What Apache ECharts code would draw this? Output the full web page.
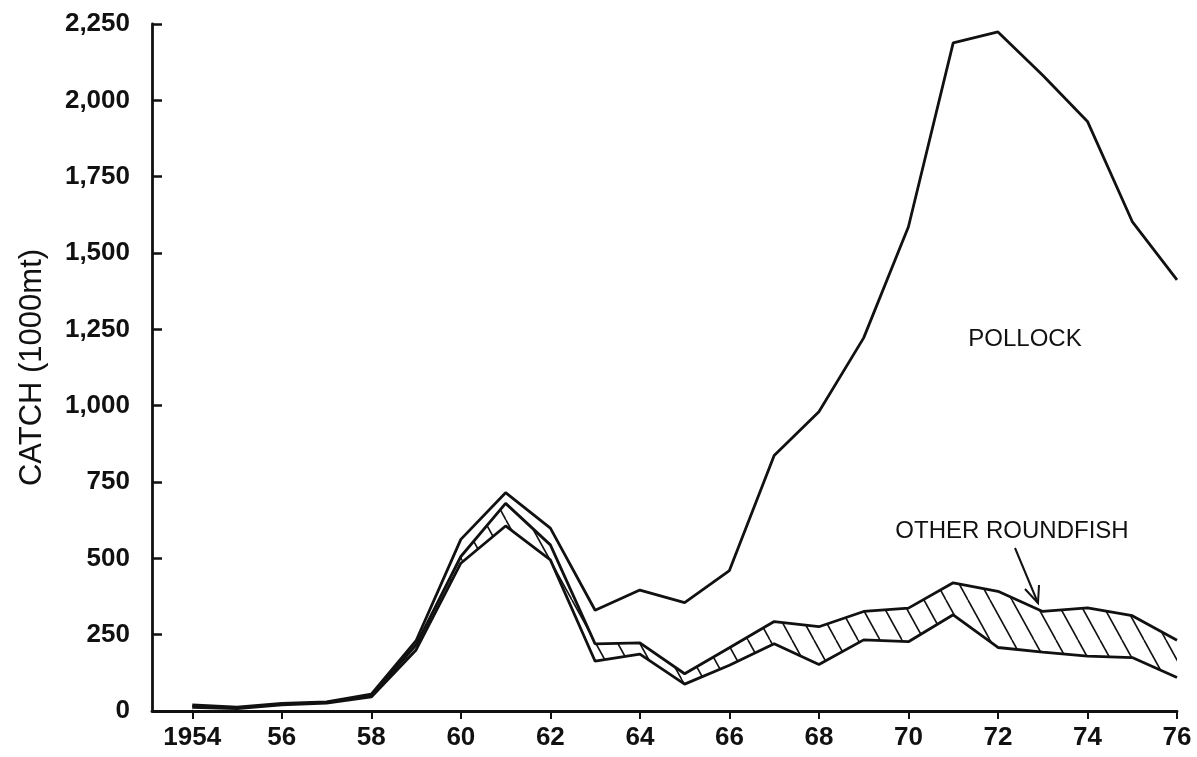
<!DOCTYPE html>
<html>
<head>
<meta charset="utf-8">
<script src="https://cdn.jsdelivr.net/npm/echarts@6/dist/echarts.min.js"></script>
<style>
html,body{margin:0;padding:0;background:#fff;}
#chart{width:1197px;height:757px;}
</style>
</head>
<body>
<div id="chart"></div>
<script>
// ---- data (1000 metric tons) ----
const years = [1954,1955,1956,1957,1958,1959,1960,1961,1962,1963,1964,1965,1966,1967,1968,1969,1970,1971,1972,1973,1974,1975,1976];
const flounders = [12,8,20,26,46,200,484,606,495,163,186,88,150,220,152,233,227,315,208,193,180,175,110];
const otherRoundfish = [3,2,2,2,4,16,22,74,49,57,37,34,57,73,124,93,110,105,184,133,158,137,122];
const pollock = [5,3,3,2,5,14,56,35,55,110,173,233,253,544,704,896,1249,1768,1832,1756,1593,1291,1180];
const xTickValues = [1954,1956,1958,1960,1962,1964,1966,1968,1970,1972,1974,1976];

// cumulative (stacked) curves
const withRoundfish = flounders.map(function(v,i){ return v + otherRoundfish[i]; });
const total = withRoundfish.map(function(v,i){ return v + pollock[i]; });

// ---- hatch pattern ----
function makeHatch(){
  const w = 22, h = 40;
  const c = document.createElement('canvas');
  c.width = w; c.height = h;
  const ctx = c.getContext('2d');
  ctx.fillStyle = '#fff';
  ctx.fillRect(0,0,w,h);
  ctx.strokeStyle = '#111';
  ctx.lineWidth = 1.6;
  [-w,0,w].forEach(function(x0){
    ctx.beginPath();
    ctx.moveTo(x0,0);
    ctx.lineTo(x0+w,h);
    ctx.stroke();
  });
  return c;
}

const chart = echarts.init(document.getElementById('chart'), null, {renderer:'canvas'});
const black = '#111';
const lineW = 2.8;
const FONT = '"Liberation Sans", Arial, sans-serif';

function pairs(arr){ return years.map(function(y,i){ return [y, arr[i]]; }); }

chart.setOption({
  backgroundColor:'#fff',
  animation:false,
  grid:{left:152, right:20, top:24, bottom:46, containLabel:false},
  xAxis:{
    type:'value', min:1953.1, max:1976, z:20,
    axisLine:{lineStyle:{color:black, width:lineW}},
    axisTick:{show:true, length:8, inside:false, lineStyle:{color:black, width:2}, customValues:xTickValues},
    axisLabel:{
      customValues:xTickValues,
      margin:14, color:black, fontFamily:FONT, fontWeight:'bold', fontSize:26,
      formatter:function(v){ return v===1954 ? '1954' : String(v).slice(2); }
    },
    splitLine:{show:false}
  },
  yAxis:{
    type:'value', min:0, max:2250, interval:250, z:20,
    name:'CATCH (1000mt)', nameLocation:'middle', nameRotate:90, nameGap:104,
    nameTextStyle:{color:black, fontFamily:FONT, fontSize:31},
    axisLine:{show:true, lineStyle:{color:black, width:lineW}},
    axisTick:{show:true, inside:true, length:10, lineStyle:{color:black, width:2.5}},
    axisLabel:{
      margin:22, color:black, fontFamily:FONT, fontWeight:'bold', fontSize:26,
      formatter:function(v){ return v.toLocaleString('en-US'); }
    },
    splitLine:{show:false}
  },
  series:[
    {name:'Other roundfish (cumulative)', type:'line', data:pairs(withRoundfish), symbol:'none', z:2,
      lineStyle:{color:black, width:lineW},
      areaStyle:{color:{image:makeHatch(), repeat:'repeat'}, opacity:1, origin:'start'}},
    {name:'Flounders', type:'line', data:pairs(flounders), symbol:'none', z:3,
      lineStyle:{color:black, width:lineW},
      areaStyle:{color:'#fff', opacity:1, origin:'start'}},
    {name:'Pollock (total)', type:'line', data:pairs(total), symbol:'none', z:4,
      lineStyle:{color:black, width:lineW}}
  ],
  graphic:[
    {type:'text', x:1025, y:339, style:{text:'POLLOCK', fill:black, font:'24px ' + FONT, textAlign:'center', textVerticalAlign:'middle'}},
    {type:'text', x:1012, y:531, style:{text:'OTHER ROUNDFISH', fill:black, font:'24px ' + FONT, textAlign:'center', textVerticalAlign:'middle'}},
    {type:'text', x:514, y:682, style:{text:'FLOUNDERS', fill:black, font:'24px ' + FONT, textAlign:'center', textVerticalAlign:'middle'}},
    {type:'line', shape:{x1:1015, y1:548, x2:1038, y2:603}, style:{stroke:black, lineWidth:2}},
    {type:'polyline', shape:{points:[[1025,589],[1038,603],[1039,585]]}, style:{stroke:black, lineWidth:2, fill:null}}
  ]
});
</script>
</body>
</html>
